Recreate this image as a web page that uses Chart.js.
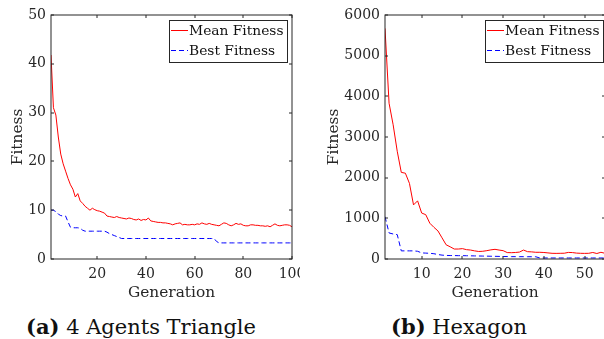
<!DOCTYPE html>
<html>
<head>
<meta charset="utf-8">
<script src="https://cdn.jsdelivr.net/npm/chart.js@4.4.1/dist/chart.umd.min.js"></script>
<style>
    html, body { margin: 0; padding: 0; background: #fff; }
    body { width: 604px; height: 339px; position: relative; overflow: hidden; }
    canvas { position: absolute; top: 0; }
    #graficoA { left: 0; }
    #graficoB { left: 300px; }
    .leyenda-fig {
        position: absolute; top: 315px; width: 300px; text-align: center;
        font-family: "DejaVu Serif", serif; font-size: 21px; color: #111; line-height: 24px;
        white-space: nowrap;
    }
    .leyenda-fig b { font-weight: bold; }
</style>
</head>
<body>
<canvas id="graficoA" width="300" height="305"></canvas>
<canvas id="graficoB" width="305" height="305"></canvas>
<div class="leyenda-fig" style="left: -9px;"><b>(a)</b> 4 Agents Triangle</div>
<div class="leyenda-fig" style="left: 309px;"><b>(b)</b> Hexagon</div>

<script>
// (a) 4 agentes en triángulo: generaciones 1..100
const generacionesA = Array.from({ length: 100 }, (_, i) => i + 1);
const mediaA = [
    41.8, 31.0, 29.5, 25.0, 21.5, 19.5, 18.0, 16.5, 15.2, 14.3,
    12.7, 13.4, 11.9, 11.4, 10.8, 10.4, 10.0, 10.4, 10.1, 9.9,
    9.8, 9.6, 9.4, 8.8, 8.7, 8.6, 8.5, 8.7, 8.5, 8.4,
    8.3, 8.2, 8.4, 8.3, 8.1, 8.0, 8.2, 7.9, 8.1, 8.0,
    8.4, 7.8, 7.7, 7.6, 7.5, 7.5, 7.4, 7.4, 7.3, 7.2,
    7.0, 7.2, 7.3, 7.4, 7.0, 7.1, 7.0, 7.0, 7.1, 7.0,
    7.2, 7.1, 7.4, 7.2, 7.1, 7.3, 7.1, 7.0, 6.9, 6.8,
    7.1, 7.4, 7.3, 7.0, 6.8, 7.0, 7.3, 7.1, 7.2, 6.9,
    6.8, 6.8, 7.0, 7.0, 6.9, 6.9, 6.8, 6.8, 6.7, 6.8,
    6.6, 6.9, 7.2, 6.9, 6.8, 6.9, 7.0, 7.0, 6.9, 6.6,
];
const mejorA = [
    10.0, 10.0, 9.7, 9.2, 8.9, 8.8, 8.8, 7.6, 6.5, 6.4,
    6.4, 6.4, 6.3, 5.9, 5.7, 5.7, 5.7, 5.7, 5.7, 5.7,
    5.7, 5.7, 5.7, 5.5, 5.2, 5.0, 4.8, 4.6, 4.4, 4.2,
    4.2, 4.2, 4.2, 4.2, 4.2, 4.2, 4.2, 4.2, 4.2, 4.2,
    4.2, 4.2, 4.2, 4.2, 4.2, 4.2, 4.2, 4.2, 4.2, 4.2,
    4.2, 4.2, 4.2, 4.2, 4.2, 4.2, 4.2, 4.2, 4.2, 4.2,
    4.2, 4.2, 4.2, 4.2, 4.2, 4.2, 4.2, 4.2, 3.6, 3.3,
    3.3, 3.3, 3.3, 3.3, 3.3, 3.3, 3.3, 3.3, 3.3, 3.3,
    3.3, 3.3, 3.3, 3.3, 3.3, 3.3, 3.3, 3.3, 3.3, 3.3,
    3.3, 3.3, 3.3, 3.3, 3.3, 3.3, 3.3, 3.3, 3.3, 3.3,
];
const marcasXA = [20, 40, 60, 80, 100];

// (b) hexágono: generaciones 1..55
const generacionesB = Array.from({ length: 55 }, (_, i) => i + 1);
const mediaB = [
    5670, 3830, 3300, 2650, 2130, 2110, 1860, 1330, 1430, 1130,
    1090, 880, 780, 690, 520, 350, 300, 245, 245, 255,
    230, 220, 200, 185, 190, 205, 225, 238, 220, 205,
    158, 155, 160, 170, 220, 180, 175, 165, 165, 160,
    150, 140, 138, 140, 142, 162, 158, 145, 140, 138,
    140, 160, 135, 165, 140,
];
const mejorB = [
    1040, 640, 615, 600, 200, 200, 200, 200, 190, 150,
    145, 140, 130, 110, 95, 88, 85, 84, 82, 82,
    80, 78, 76, 74, 72, 70, 68, 66, 64, 62,
    60, 58, 58, 57, 57, 56, 56, 55, 25, 25,
    25, 25, 25, 25, 25, 25, 25, 25, 25, 25,
    25, 25, 25, 25, 25,
];
const marcasXB = [10, 20, 30, 40, 50];

const FUENTE = "DejaVu Serif";
const GRIS = "#262626";

// caja de leyenda dentro del área (estilo MATLAB)
const leyendaCaja = {
    id: "leyendaCaja",
    afterDraw(chart, args, opts) {
        const ctx = chart.ctx;
        const area = chart.chartArea;
        ctx.save();
        ctx.font = `13.8px "${FUENTE}"`;
        const anchos = chart.data.datasets.map((d) => ctx.measureText(d.label).width);
        const muestra = 17;
        const ancho = Math.round(Math.max(...anchos) + muestra + 6);
        const x1 = Math.round(area.right - opts.margen);
        const x0 = x1 - ancho;
        const y0 = Math.round(area.top + 5);
        const alto = 42;
        ctx.fillStyle = "#fff";
        ctx.fillRect(x0, y0, ancho, alto);
        ctx.strokeStyle = GRIS;
        ctx.lineWidth = 1;
        ctx.strokeRect(x0 + 0.5, y0 + 0.5, ancho, alto);
        chart.data.datasets.forEach((d, i) => {
            const y = y0 + 10 + i * 20;
            ctx.beginPath();
            ctx.setLineDash(d.borderDash || []);
            ctx.strokeStyle = d.borderColor;
            ctx.moveTo(x0 + 2, y + 0.5);
            ctx.lineTo(x0 + 2 + muestra, y + 0.5);
            ctx.stroke();
            ctx.setLineDash([]);
            ctx.fillStyle = "#111";
            ctx.textBaseline = "middle";
            ctx.fillText(d.label, x0 + muestra + 3, y + 1);
        });
        ctx.restore();
    },
};

// marco completo con marcas hacia dentro
const marcoEjes = {
    id: "marcoEjes",
    afterDatasetsDraw(chart) {
        const ctx = chart.ctx;
        const a = chart.chartArea;
        const L = Math.round(a.left), R = Math.round(a.right), T = Math.round(a.top), B = Math.round(a.bottom);
        ctx.save();
        ctx.strokeStyle = GRIS;
        ctx.lineWidth = 1;
        ctx.strokeRect(L, T, R - L, B - T);
        ctx.beginPath();
        chart.scales.x.ticks.forEach((t) => {
            const x = Math.round(chart.scales.x.getPixelForValue(t.value));
            ctx.moveTo(x, B); ctx.lineTo(x, B - 3);
            ctx.moveTo(x, T); ctx.lineTo(x, T + 3);
        });
        chart.scales.y.ticks.forEach((t) => {
            const y = Math.round(chart.scales.y.getPixelForValue(t.value));
            ctx.moveTo(L, y); ctx.lineTo(L + 3, y);
            ctx.moveTo(R, y); ctx.lineTo(R - 3, y);
        });
        ctx.stroke();
        ctx.restore();
    },
};

function graficoFitness(idCanvas, gens, media, mejor, marcasX, cfg) {
    const puntos = (valores) => valores.map((v, i) => ({ x: gens[i], y: v }));
    return new Chart(document.getElementById(idCanvas), {
        type: "line",
        data: {
            datasets: [
                { label: "Mean Fitness", data: puntos(media), borderColor: "#ff0000", borderWidth: 1, pointRadius: 0, tension: 0 },
                { label: "Best Fitness", data: puntos(mejor), borderColor: "#0000ff", borderWidth: 1, borderDash: [5, 3], pointRadius: 0, tension: 0 },
            ],
        },
        options: {
            responsive: false,
            animation: false,
            devicePixelRatio: 1,
            layout: { autoPadding: false, padding: { top: 15, right: cfg.derecha, bottom: 0, left: 0 } },
            plugins: { legend: { display: false }, tooltip: { enabled: false }, leyendaCaja: { margen: cfg.margenLeyenda } },
            scales: {
                x: {
                    type: "linear", min: 1, max: gens[gens.length - 1],
                    grid: { display: false, drawTicks: false },
                    border: { display: false },
                    afterBuildTicks: (s) => { s.ticks = marcasX.map((v) => ({ value: v })); },
                    afterFit: (s) => { s.height = 46; s.paddingLeft = 0; s.paddingRight = 0; },
                    ticks: { color: GRIS, font: { family: FUENTE, size: 14 }, padding: 7, maxRotation: 0, callback: (v) => String(v) },
                    title: { display: true, text: "Generation", color: GRIS, font: { family: FUENTE, size: 15.4 }, padding: { top: 0, bottom: 3 } },
                },
                y: {
                    min: 0, max: cfg.ymax,
                    grid: { display: false, drawTicks: false },
                    border: { display: false },
                    afterFit: (s) => { s.width = cfg.anchoY; s.paddingTop = 0; s.paddingBottom = 0; },
                    ticks: { stepSize: cfg.paso, color: GRIS, font: { family: FUENTE, size: 14 }, padding: 5, callback: (v) => String(v) },
                    title: { display: true, text: "Fitness", color: GRIS, font: { family: FUENTE, size: 15.4 }, padding: { top: cfg.padTitulo, bottom: 0 } },
                },
            },
        },
        plugins: [marcoEjes, leyendaCaja],
    });
}

graficoFitness("graficoA", generacionesA, mediaA, mejorA, marcasXA,
    { ymax: 50, paso: 10, anchoY: 51, padTitulo: 9, derecha: 8, margenLeyenda: 5 });
graficoFitness("graficoB", generacionesB, mediaB, mejorB, marcasXB,
    { ymax: 6000, paso: 1000, anchoY: 85, padTitulo: 25, derecha: 0, margenLeyenda: 2 });
</script>
</body>
</html>
